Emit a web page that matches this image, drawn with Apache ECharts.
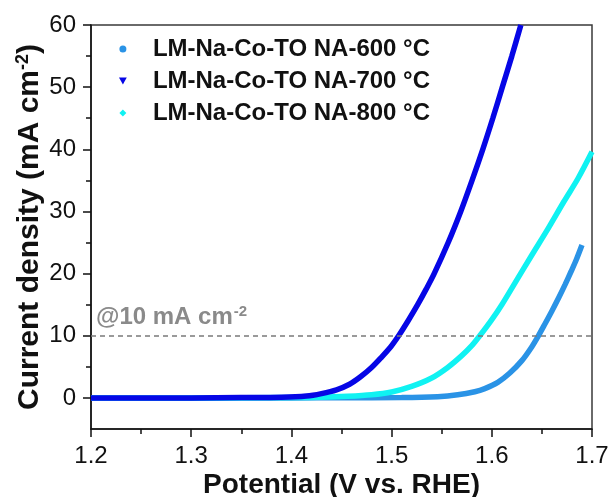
<!DOCTYPE html>
<html>
<head>
<meta charset="utf-8">
<script src="https://cdn.jsdelivr.net/npm/echarts@6/dist/echarts.min.js"></script>
<style>
  html, body { margin: 0; padding: 0; background: #ffffff; }
  #chart { width: 614px; height: 497px; }
</style>
</head>
<body>
<div id="chart"></div>
<script>
// LSV polarization curves (OER) for three annealing temperatures
const seriesNames = ['LM-Na-Co-TO NA-600 °C', 'LM-Na-Co-TO NA-700 °C', 'LM-Na-Co-TO NA-800 °C'];
const seriesColors = ['#2a93e6', '#0606e6', '#10f2f2'];

// Potential (V vs. RHE) and current density (mA cm-2)
const v600 = [1.20, 1.30, 1.40, 1.45, 1.51, 1.546, 1.566, 1.583, 1.593, 1.606, 1.618, 1.630, 1.639, 1.6465, 1.653, 1.660, 1.667, 1.673, 1.679, 1.684, 1.690];
const j600 = [0.0, -0.05, 0.0, 0.02, 0.05, 0.2, 0.5, 1.0, 1.5, 2.5, 4.0, 6.0, 8.0, 10.0, 11.9, 14.0, 16.2, 18.2, 20.3, 22.1, 24.6];

const v700 = [1.20, 1.25, 1.30, 1.35, 1.39, 1.415, 1.430, 1.445, 1.458, 1.469, 1.480, 1.489, 1.499, 1.507, 1.5168, 1.526, 1.5345, 1.5425, 1.5565, 1.569, 1.5803, 1.591, 1.601, 1.6105, 1.620, 1.629];
const j700 = [0.0, 0.0, 0.0, 0.05, 0.1, 0.3, 0.7, 1.3, 2.2, 3.4, 4.9, 6.4, 8.2, 10.0, 12.5, 15.0, 17.5, 20.0, 25.0, 30.0, 35.0, 40.0, 45.0, 50.0, 55.0, 60.0];

const v800 = [1.20, 1.30, 1.40, 1.43, 1.456, 1.480, 1.500, 1.520, 1.540, 1.556, 1.570, 1.580, 1.588, 1.600, 1.610, 1.622, 1.640, 1.656, 1.672, 1.686, 1.700];
const j800 = [0.0, 0.0, 0.05, 0.1, 0.25, 0.5, 0.95, 1.85, 3.2, 4.9, 6.8, 8.4, 10.0, 12.6, 15.0, 18.2, 23.0, 27.2, 31.6, 35.3, 39.6];

// Axis ranges and tick values
const xRange = [1.2, 1.7];
const xStep = 0.1;
const yRange = [-5, 60];
const yTicks = [0, 10, 20, 30, 40, 50, 60];
const yMinorTicks = [5, 15, 25, 35, 45, 55];
const refCurrent = 10;

const font = '"Liberation Sans", Arial, Helvetica, sans-serif';
const ink = '#111111';
const pair = (xs, ys) => xs.map((x, i) => [x, ys[i]]);

const legendIcons = [
  'path://M0,5A5,5,0,1,1,10,5A5,5,0,1,1,0,5Z',
  'path://M0,0L10,0L5,9Z',
  'path://M5,0L10,5L5,10L0,5Z'
];

const chart = echarts.init(document.getElementById('chart'), null, { renderer: 'canvas' });

function curve(idx, xs, ys, z) {
  return {
    name: seriesNames[idx],
    type: 'line',
    data: pair(xs, ys),
    showSymbol: false,
    smooth: 0.3,
    z: z,
    lineStyle: { color: seriesColors[idx], width: 5.5 },
    itemStyle: { color: seriesColors[idx] },
    emphasis: { disabled: true },
    animation: false
  };
}

const s600 = curve(0, v600, j600, 2);
s600.markLine = {
  silent: true,
  symbol: ['none', 'none'],
  animation: false,
  lineStyle: { color: '#7a7a7a', type: [5, 4], width: 1.5 },
  label: {
    show: true,
    position: 'insideStartTop',
    distance: [5, 6],
    formatter: '@10 mA cm{sup|-2}',
    color: '#8a8a8a',
    fontFamily: font,
    fontWeight: 'bold',
    fontSize: 24,
    rich: {
      sup: { fontSize: 15, fontWeight: 'bold', color: '#8a8a8a', fontFamily: font, verticalAlign: 'top', padding: [0, 0, 10, 1] }
    }
  },
  data: [{ yAxis: refCurrent }]
};

const tickStyle = { color: ink, width: 1.5 };

const option = {
  backgroundColor: '#ffffff',
  animation: false,
  grid: {
    left: 91, right: 22, top: 25, bottom: 68,
    outerBoundsMode: 'none',
    containLabel: false,
    show: true, borderColor: '#3a3a3a', borderWidth: 1.5, backgroundColor: 'transparent'
  },
  legend: {
    orient: 'vertical',
    left: 114,
    top: 32,
    itemWidth: 50,
    itemHeight: 7,
    itemGap: 8,
    selectedMode: false,
    data: seriesNames.map((n, i) => ({ name: n, icon: legendIcons[i] })),
    textStyle: { fontFamily: font, fontWeight: 'bold', fontSize: 24, color: ink }
  },
  xAxis: {
    type: 'value',
    min: xRange[0],
    max: xRange[1],
    interval: xStep,
    name: 'Potential (V vs. RHE)',
    nameLocation: 'middle',
    nameGap: 42,
    nameMoveOverlap: false,
    nameTextStyle: { fontFamily: font, fontWeight: 'bold', fontSize: 28, color: ink },
    axisLine: { show: true, onZero: false, lineStyle: tickStyle },
    axisTick: { show: true, inside: false, length: 8, lineStyle: tickStyle },
    minorTick: { show: true, splitNumber: 2, length: 5, lineStyle: tickStyle },
    axisLabel: {
      show: true, margin: 15, fontFamily: font, fontSize: 24, color: ink,
      formatter: v => v.toFixed(1)
    },
    splitLine: { show: false },
    minorSplitLine: { show: false }
  },
  yAxis: [
    {
      type: 'value',
      min: yRange[0],
      max: yRange[1],
      name: 'Current density (mA cm{sup|-2})',
      nameLocation: 'middle',
      nameGap: 45,
      nameMoveOverlap: false,
      nameTextStyle: {
        fontFamily: font, fontWeight: 'bold', fontSize: 30, color: ink,
        rich: { sup: { fontFamily: font, fontWeight: 'bold', fontSize: 18, color: ink, verticalAlign: 'top', padding: [0, 0, 14, 0] } }
      },
      axisLine: { show: true, onZero: false, lineStyle: tickStyle },
      axisTick: { show: true, inside: false, length: 8, customValues: yTicks, lineStyle: tickStyle },
      axisLabel: { show: true, margin: 15, customValues: yTicks, fontFamily: font, fontSize: 24, color: ink },
      splitLine: { show: false }
    },
    {
      type: 'value',
      min: yRange[0],
      max: yRange[1],
      position: 'left',
      offset: 0,
      axisLine: { show: false },
      axisTick: { show: true, inside: false, length: 5, customValues: yMinorTicks, lineStyle: tickStyle },
      axisLabel: { show: false },
      splitLine: { show: false }
    }
  ],
  series: [
    s600,
    curve(1, v700, j700, 4),
    curve(2, v800, j800, 3)
  ]
};

chart.setOption(option);
</script>
</body>
</html>
